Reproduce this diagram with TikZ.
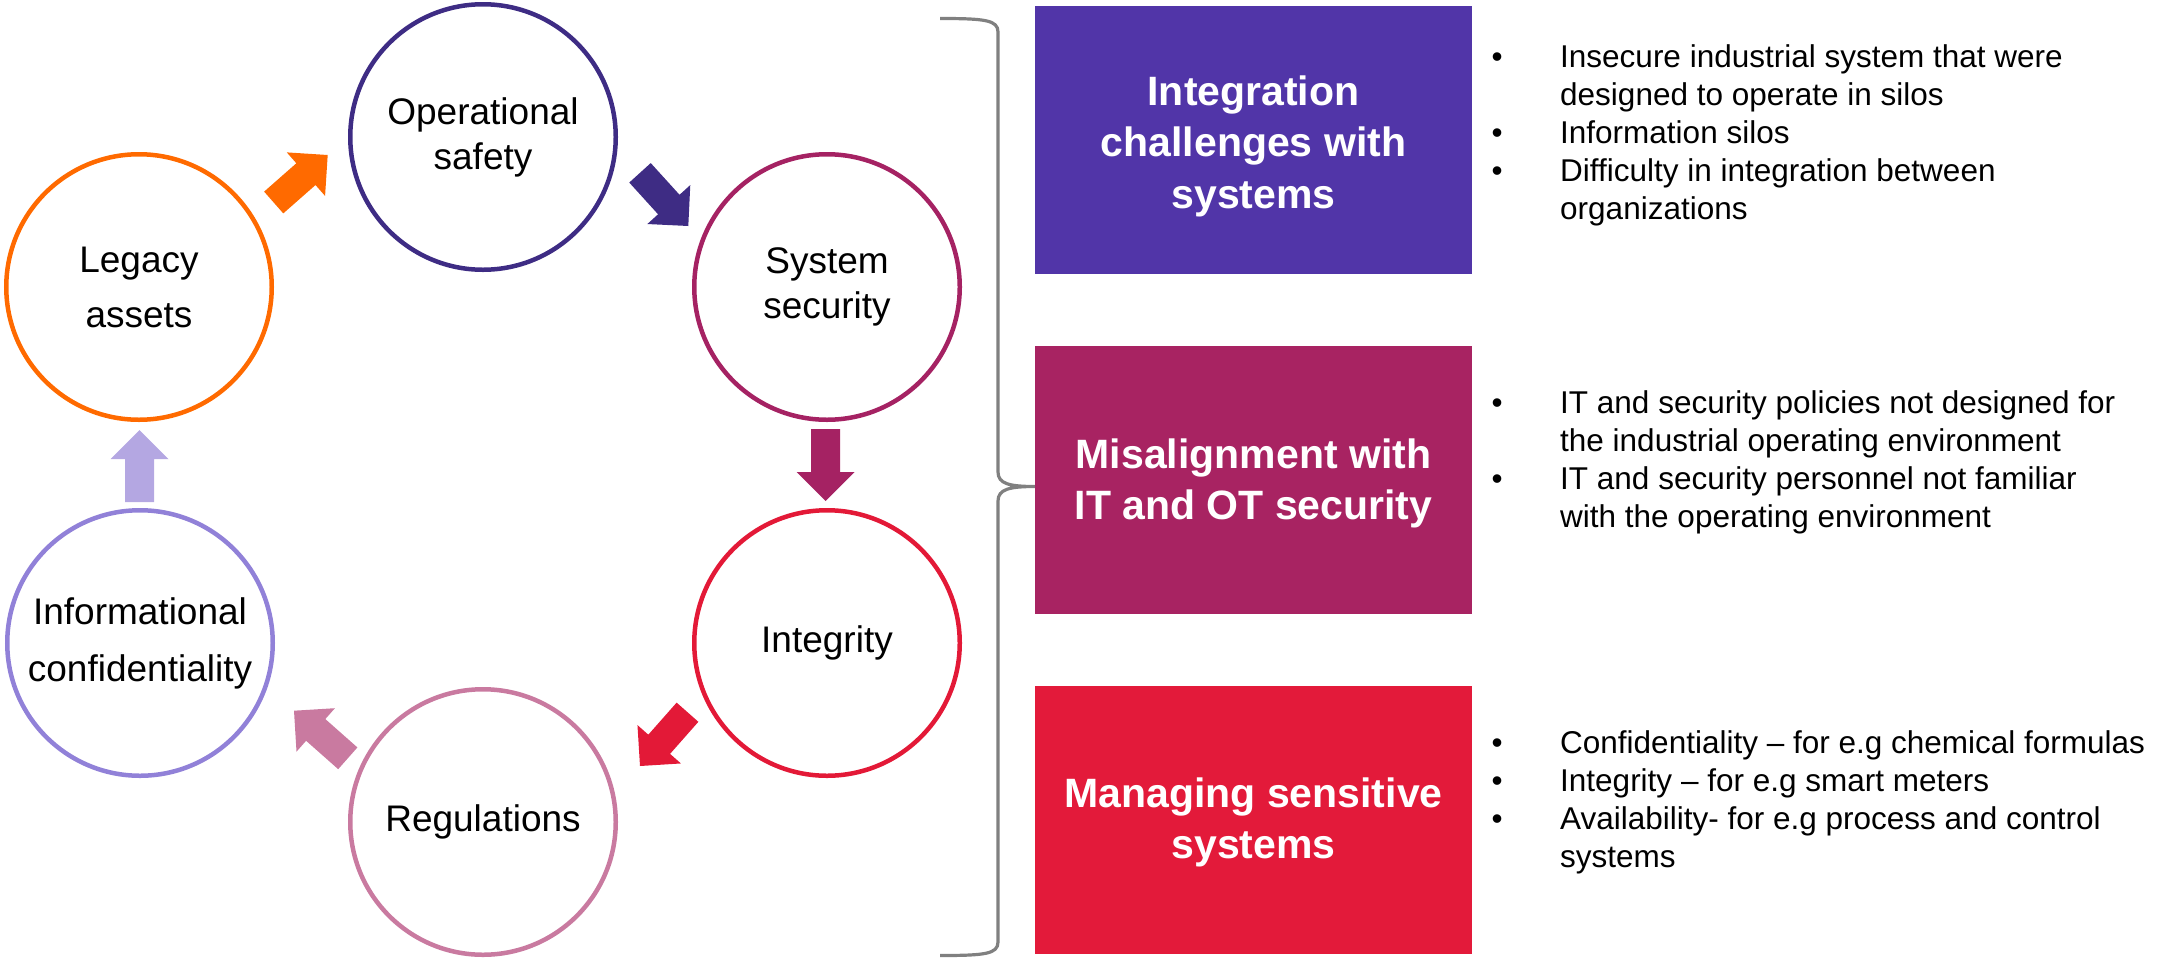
\documentclass[tikz,border=0pt]{standalone}
\usepackage{fontspec}
\setmainfont{Liberation Sans}
\usetikzlibrary{calc}

\definecolor{cOp}{HTML}{3E2C84}
\definecolor{cSys}{HTML}{A52263}
\definecolor{cInt}{HTML}{E31937}
\definecolor{cReg}{HTML}{C97AA0}
\definecolor{cInf}{HTML}{9181D8}
\definecolor{cLeg}{HTML}{FF6A00}
\definecolor{aInf}{HTML}{B4A7E2}
\definecolor{bOne}{HTML}{5135A8}
\definecolor{bTwo}{HTML}{A82362}
\definecolor{bThree}{HTML}{E31A3A}

\begin{document}
\begin{tikzpicture}[x=1pt,y=-1pt,
  ring/.style={circle,draw,line width=4.5pt,minimum size=265.5pt,inner sep=0pt,
    align=center,font=\fontsize{37}{45}\selectfont},
  panel/.style={minimum width=437pt,minimum height=268pt,inner sep=0pt},
  title/.style={inner sep=0pt,text=white,align=center,font=\bfseries\fontsize{41}{51.5}\selectfont},
  list/.style={anchor=north west,inner sep=0pt,font=\fontsize{31.5}{38}\selectfont}]

\useasboundingbox (0,0) rectangle (2162,959);

\coordinate (C0) at (483,137);
\coordinate (C1) at (827,287);
\coordinate (C2) at (827,643);
\coordinate (C3) at (483,822);
\coordinate (C4) at (140,643);
\coordinate (C5) at (139,287);

\node[ring,draw=cOp] (N0) at (C0) {Operational\\safety};
\node[ring,draw=cSys] (N1) at (C1) {System\\security};
\node[ring,draw=cInt] (N2) at (C2) {Integrity};
\node[ring,draw=cReg] (N3) at (C3) {Regulations};
\node[ring,draw=cInf,font=\fontsize{37}{57}\selectfont] (N4) at (C4) {Informational\\confidentiality};
\node[ring,draw=cLeg,font=\fontsize{37}{55}\selectfont] (N5) at (C5) {Legacy\\assets};

% block arrow: colour, tail, tip
\def\blk#1#2#3{%
  \coordinate (T) at #2;
  \coordinate (P) at #3;
  \coordinate (B) at ($(P)!29pt!(T)$);
  \fill[#1] ($(T)!14.5pt!90:(P)$) -- ($(B)!14.5pt!90:(P)$) -- ($(B)!29pt!90:(P)$) -- (P)
    -- ($(B)!29pt!-90:(P)$) -- ($(B)!14.5pt!-90:(P)$) -- ($(T)!14.5pt!-90:(P)$) -- cycle;}

\blk{cLeg}{([shift={(134.7,-84.5)}]N5.center)}{([shift={(-155.3,18)}]N0.center)}
\blk{cOp}{([shift={(157,35.8)}]N0.center)}{([shift={(-138.7,-61)}]N1.center)}
\blk{cSys}{([shift={(-1.5,142)}]N1.center)}{([shift={(-1.5,-142)}]N2.center)}
\blk{cInt}{([shift={(-139.5,69.2)}]N2.center)}{([shift={(157,-56)}]N3.center)}
\blk{cReg}{([shift={(-135.2,-63.7)}]N3.center)}{([shift={(154,67.7)}]N4.center)}
\blk{aInf}{([shift={(-0.5,-141)}]N4.center)}{([shift={(0.5,143)}]N5.center)}

% brace
\draw[line width=3.2pt,black!50] (940,18.5) .. controls (985,18.5) and (998,20) .. (998,32)
  -- (998,472) .. controls (998,484) and (1010,486.5) .. (1035,486.5)
  .. controls (1010,486.5) and (998,489) .. (998,501)
  -- (998,942) .. controls (998,954) and (985,955.5) .. (940,955.5);

\node[panel,fill=bOne] (B0) at (1253.5,140) {};
\node[panel,fill=bTwo] (B1) at (1253.5,479.5) {};
\node[panel,fill=bThree] (B2) at (1253.5,819.5) {};

\node[title] (T0) at ([yshift=-6pt]B0.center) {Integration\\challenges with\\systems};
\node[title] (T1) at ([yshift=-4pt]B1.center) {Misalignment with\\IT and OT security};
\node[title] (T2) at ([yshift=-3pt]B2.center) {Managing sensitive\\systems};

\node[list] (L0) at (1491.5,40.4) {\begin{tabular}{@{}p{68.5pt}@{}l@{}}
\textbullet & Insecure industrial system that were\\
 & designed to operate in silos\\
\textbullet & Information silos\\
\textbullet & Difficulty in integration between\\
 & organizations
\end{tabular}};
\node[list] (L1) at (1491.5,386.4) {\begin{tabular}{@{}p{68.5pt}@{}l@{}}
\textbullet & IT and security policies not designed for\\
 & the industrial operating environment\\
\textbullet & IT and security personnel not familiar\\
 & with the operating environment
\end{tabular}};
\node[list] (L2) at (1491.5,726.4) {\begin{tabular}{@{}p{68.5pt}@{}l@{}}
\textbullet & Confidentiality – for e.g chemical formulas\\
\textbullet & Integrity – for e.g smart meters\\
\textbullet & Availability- for e.g process and control\\
 & systems
\end{tabular}};

\end{tikzpicture}
\end{document}
